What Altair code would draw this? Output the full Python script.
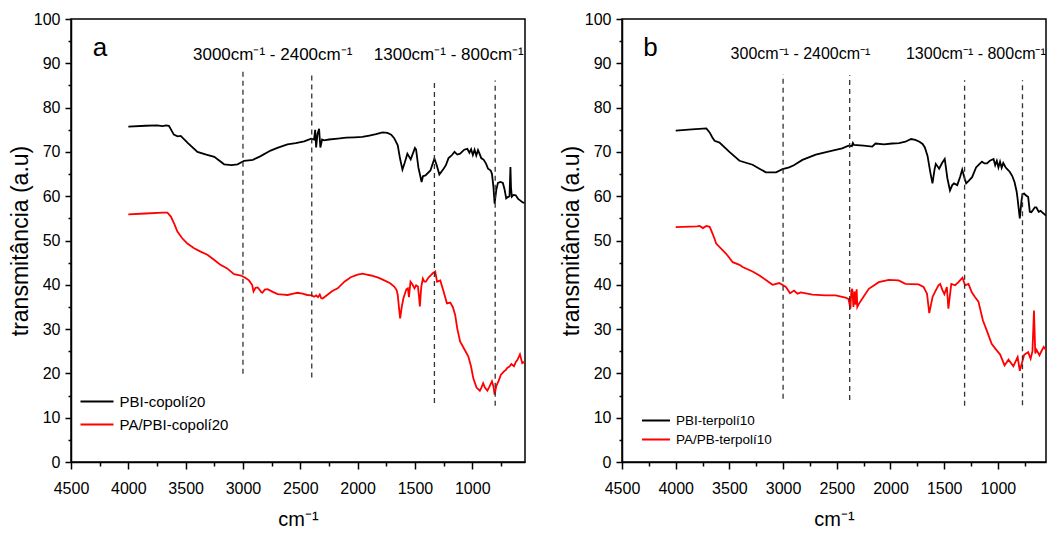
import altair as alt
import pandas as pd

FONT = "Liberation Sans, Arial, sans-serif"

# ---------------- data: panel a ----------------
a_names = ["PBI-copolí20", "PA/PBI-copolí20"]
a_black_wn = [4000, 3850, 3750, 3700, 3672, 3646, 3603, 3570, 3543, 3480, 3397, 3320, 3250, 3164, 3100,
              3047, 2990, 2950, 2914, 2850, 2759, 2700, 2612, 2540, 2466, 2405, 2380, 2370, 2362, 2350,
              2336, 2325, 2310, 2293, 2250, 2173, 2100, 2026, 1960, 1897, 1840, 1782, 1740, 1707, 1681,
              1650, 1630, 1609, 1590, 1566, 1537, 1500, 1490, 1470, 1442, 1430, 1408, 1365, 1330, 1310,
              1287, 1250, 1230, 1207, 1180, 1155, 1130, 1106, 1070, 1043, 1025, 1010, 995, 980, 965,
              950, 935, 922, 900, 879, 862, 839, 828, 815, 805, 790, 776, 755, 733, 718,
              704, 690, 675, 667, 662, 655, 640, 621, 600, 580, 560, 545]
a_black_t = [75.7, 75.9, 76.0, 75.8, 76.0, 75.9, 73.9, 73.5, 73.6, 72.0, 70.0, 69.4, 68.9, 67.2, 67.0,
             67.2, 68.0, 68.1, 68.2, 69.0, 70.3, 70.9, 71.7, 72.0, 72.4, 73.0, 72.8, 75.0, 71.0, 74.0,
             75.2, 71.0, 72.8, 72.6, 72.8, 73.0, 73.2, 73.3, 73.4, 73.7, 74.0, 74.4, 74.3, 73.9, 73.1,
             71.5, 68.5, 66.0, 67.5, 69.6, 68.3, 70.9, 70.5, 66.5, 63.2, 64.5, 64.7, 65.8, 68.5, 67.0,
             64.9, 66.2, 67.0, 68.6, 69.2, 70.0, 69.4, 69.6, 70.5, 70.7, 69.8, 70.6, 69.3, 70.5, 69.2,
             70.4, 69.5, 68.6, 68.2, 67.3, 66.2, 65.8, 65.0, 62.0, 58.3, 61.5, 63.0, 63.2, 63.0, 61.5,
             59.5, 59.8, 60.0, 66.6, 62.0, 59.9, 60.3, 60.2, 59.4, 59.0, 58.6, 58.5]
a_red_wn = [4000, 3850, 3700, 3659, 3629, 3600, 3572, 3530, 3485, 3430, 3370, 3310, 3250, 3200, 3138,
            3078, 3018, 2980, 2948, 2920, 2908, 2890, 2872, 2855, 2840, 2830, 2810, 2785, 2740, 2698,
            2650, 2610, 2560, 2525, 2480, 2440, 2400, 2380, 2362, 2345, 2330, 2318, 2305, 2260, 2220,
            2174, 2115, 2060, 2000, 1957, 1920, 1883, 1820, 1767, 1720, 1681, 1660, 1650, 1640, 1629,
            1615, 1600, 1591, 1575, 1562, 1552, 1539, 1520, 1504, 1490, 1474, 1465, 1457, 1445, 1431,
            1418, 1405, 1380, 1360, 1345, 1323, 1307, 1279, 1250, 1221, 1192, 1170, 1149, 1130, 1106,
            1070, 1034, 1010, 991, 963, 934, 920, 905, 890, 868, 850, 828, 815, 805, 790,
            770, 750, 725, 707, 693, 678, 659, 636, 620, 607, 584, 564, 545]
a_red_t = [55.9, 56.1, 56.3, 56.3, 55.4, 53.8, 52.0, 50.5, 49.3, 48.3, 47.5, 46.8, 45.6, 44.6, 43.7,
           42.4, 42.1, 41.6, 41.0, 40.0, 38.5, 39.3, 39.4, 38.9, 38.3, 38.2, 38.9, 39.0, 38.4, 37.9,
           37.8, 37.7, 38.0, 38.2, 38.0, 37.7, 37.6, 37.3, 37.6, 37.2, 37.8, 37.0, 36.9, 37.8, 38.6,
           39.2, 40.7, 41.7, 42.3, 42.5, 42.3, 42.1, 41.6, 41.0, 40.4, 39.6, 38.8, 37.7, 35.0, 32.4,
           35.0, 37.0, 37.7, 39.0, 39.2, 37.2, 40.7, 40.0, 39.2, 39.9, 39.6, 37.5, 35.1, 39.5, 41.4,
           40.7, 40.7, 41.7, 42.2, 42.6, 43.0, 40.7, 41.0, 38.5, 35.8, 36.0, 35.0, 33.2, 30.0, 27.2,
           25.5, 23.8, 21.5, 18.9, 16.8, 16.1, 16.8, 17.8, 16.8, 16.1, 17.0, 18.2, 17.0, 15.2, 17.2,
           18.3, 19.7, 20.4, 20.8, 21.3, 21.5, 22.1, 21.6, 22.6, 23.0, 24.3, 22.3, 22.6]
a_rule_wn = [3000, 2400, 1330, 800]
a_rule_lo = [19.9, 19.1, 13.3, 12.7]
a_rule_hi = [89.0, 88.1, 86.3, 86.1]
a_ann_wn = [2741, 1205]
a_ann_t = [90.8, 90.8]
a_ann_text = ["3000cm⁻¹ - 2400cm⁻¹", "1300cm⁻¹ - 800cm⁻¹"]

# ---------------- data: panel b ----------------
b_names = ["PBI-terpolí10", "PA/PB-terpolí10"]
b_black_wn = [4000, 3850, 3715, 3684, 3660, 3638, 3592, 3500, 3406, 3284, 3220, 3160, 3066, 3005, 2944,
              2900, 2820, 2696, 2541, 2450, 2391, 2360, 2350, 2341, 2250, 2170, 2140, 2060, 1986, 1920,
              1861, 1808, 1769, 1730, 1701, 1680, 1655, 1630, 1609, 1590, 1578, 1547, 1520, 1495, 1470,
              1446, 1425, 1409, 1378, 1350, 1332, 1310, 1295, 1270, 1240, 1220, 1203, 1175, 1148, 1125,
              1102, 1075, 1040, 1025, 1010, 995, 980, 965, 950, 930, 918, 900, 887, 865, 844,
              825, 817, 796, 780, 771, 755, 740, 718, 703, 688, 670, 656, 642, 620, 602,
              580, 552]
b_black_t = [74.8, 75.1, 75.3, 74.4, 73.3, 72.5, 72.1, 70.0, 68.0, 67.1, 66.2, 65.4, 65.4, 66.1, 66.5,
             67.0, 68.2, 69.4, 70.3, 70.8, 71.4, 71.3, 72.0, 71.6, 71.4, 71.2, 71.9, 71.7, 71.9, 72.0,
             72.3, 72.9, 72.7, 72.3, 71.8, 71.0, 69.1, 65.5, 62.9, 66.0, 67.3, 66.2, 67.5, 68.4, 64.0,
             61.3, 62.5, 62.9, 62.5, 64.5, 66.0, 64.0, 62.9, 63.5, 64.3, 65.5, 66.5, 67.2, 67.8, 67.4,
             67.4, 68.0, 68.4, 67.0, 68.0, 66.5, 67.8, 66.4, 67.5, 66.6, 66.2, 65.8, 65.4, 64.5, 63.1,
             61.0, 59.5, 55.0, 59.0, 60.5, 60.6, 60.2, 59.8, 56.5, 56.4, 57.0, 57.5, 57.5, 56.5, 56.7,
             56.2, 55.6]
b_red_wn = [4000, 3800, 3777, 3746, 3715, 3684, 3669, 3640, 3623, 3530, 3469, 3406, 3377, 3284, 3220,
            3160, 3098, 3036, 2974, 2935, 2898, 2866, 2835, 2727, 2603, 2511, 2419, 2391, 2373, 2365,
            2356, 2345, 2335, 2325, 2315, 2309, 2294, 2262, 2202, 2109, 2016, 1924, 1861, 1738, 1692,
            1660, 1639, 1608, 1577, 1553, 1537, 1516, 1498, 1475, 1461, 1434, 1398, 1367, 1330, 1305,
            1274, 1243, 1212, 1181, 1140, 1104, 1058, 1024, 978, 938, 901, 856, 816, 796, 755,
            718, 695, 678, 664, 652, 640, 613, 595, 573, 552]
b_red_t = [53.0, 53.2, 53.3, 52.8, 53.3, 53.1, 52.3, 50.5, 49.3, 47.0, 45.1, 44.5, 44.0, 43.0, 42.1,
           41.1, 40.0, 40.4, 39.5, 38.1, 38.7, 38.0, 38.3, 37.8, 37.6, 37.6, 37.1, 36.8, 34.6, 38.5,
           39.1, 35.0, 38.5, 35.5, 39.0, 35.0, 35.7, 36.9, 39.1, 40.6, 41.1, 41.0, 40.2, 40.1, 39.5,
           38.0, 33.6, 37.3, 38.8, 39.9, 40.2, 38.8, 37.9, 39.5, 34.6, 40.2, 39.9, 40.6, 41.6, 39.9,
           40.2, 38.3, 37.2, 36.2, 32.0, 29.7, 26.7, 25.6, 24.2, 21.8, 23.1, 21.6, 23.7, 20.6, 24.2,
           24.8, 23.3, 25.0, 34.2, 24.5, 25.3, 24.1, 25.0, 26.0, 25.3]
b_rule_wn = [3000, 2380, 1310, 771]
b_rule_lo = [14.3, 14.0, 12.7, 12.8]
b_rule_hi = [87.5, 87.3, 86.2, 86.2]
b_ann_wn = [2838, 1205]
b_ann_t = [91.0, 91.0]
b_ann_text = ["300cm⁻¹ - 2400cm⁻¹", "1300cm⁻¹ - 800cm⁻¹"]

# ---------------- axes ----------------
x_ticks = [4500, 4250, 4000, 3750, 3500, 3250, 3000, 2750, 2500, 2250, 2000, 1750, 1500, 1250, 1000, 750]
y_ticks = [0, 5, 10, 15, 20, 25, 30, 35, 40, 45, 50, 55, 60, 65, 70, 75, 80, 85, 90, 95, 100]
x_title = "cm⁻¹"
y_title = "transmitância (a.u)"


def panel(bw, bt, rw, rt, names, rule_wn, rule_lo, rule_hi, ann_wn, ann_t, ann_text, ann_font,
          letter, letter_wn, letter_t, width, xmin, leg_x, leg_y, leg_font, leg_row, leg_len):
    df = pd.concat([
        pd.DataFrame({"wn": bw, "t": bt, "s": names[0]}),
        pd.DataFrame({"wn": rw, "t": rt, "s": names[1]}),
    ])
    xs = alt.Scale(domain=[xmin, 4500], reverse=True, nice=False, zero=False)
    ys = alt.Scale(domain=[0, 100], nice=False, zero=True)
    xax = alt.Axis(
        values=x_ticks, format="d", title=x_title,
        labelExpr="datum.value % 500 === 0 ? datum.label : ''",
        tickSize={"condition": {"test": "datum.value % 500 === 0", "value": 7}, "value": 4},
        grid=False, labelOverlap=False, labelFlush=False,
        labelFont=FONT, labelFontSize=16, labelColor="black", labelPadding=11,
        titleFont=FONT, titleFontSize=20, titleFontWeight="normal", titleColor="black",
        titlePadding=13, domainColor="black", domainWidth=1.5, tickColor="black", tickWidth=1.5,
    )
    yax = alt.Axis(
        values=y_ticks, title=y_title,
        labelExpr="datum.value % 10 === 0 ? datum.label : ''",
        tickSize={"condition": {"test": "datum.value % 10 === 0", "value": 6}, "value": 3},
        grid=False, labelOverlap=False, labelFlush=False,
        labelFont=FONT, labelFontSize=16, labelColor="black", labelPadding=5,
        titleFont=FONT, titleFontSize=23, titleFontWeight="normal", titleColor="black",
        titlePadding=1, domainColor="black", domainWidth=1.5, tickColor="black", tickWidth=1.5,
    )
    X = alt.X("wn:Q", scale=xs, axis=xax)
    Y = alt.Y("t:Q", scale=ys, axis=yax)

    lines = alt.Chart(df).mark_line(strokeWidth=1.8, clip=True).encode(
        x=X, y=Y,
        color=alt.Color("s:N", scale=alt.Scale(domain=names, range=["#000000", "#ff0000"]),
                        legend=alt.Legend(orient="none", legendX=leg_x, legendY=leg_y, title=None,
                                          symbolType="stroke", symbolSize=leg_len * leg_len,
                                          symbolStrokeWidth=2, labelFont=FONT,
                                          labelFontSize=leg_font, labelColor="black",
                                          clipHeight=leg_row, rowPadding=0, labelOffset=5,
                                          padding=0, labelLimit=400)),
        order=alt.Order("wn:Q"),
    )
    rules_df = pd.DataFrame({"wn": rule_wn, "t": rule_lo, "t2": rule_hi})
    rules = alt.Chart(rules_df).mark_rule(color="#333333", strokeWidth=1.3, strokeDash=[5, 4]).encode(
        x=X, y=Y, y2="t2:Q")
    ann_df = pd.DataFrame({"wn": ann_wn, "t": ann_t, "label": ann_text})
    ann = alt.Chart(ann_df).mark_text(font=FONT, fontSize=ann_font, color="black", align="center",
                                       baseline="alphabetic").encode(x=X, y=Y, text="label:N")
    let_df = pd.DataFrame({"wn": [letter_wn], "t": [letter_t], "label": [letter]})
    let = alt.Chart(let_df).mark_text(font=FONT, fontSize=26, color="black", align="center",
                                       baseline="middle").encode(x=X, y=Y, text="label:N")
    return alt.layer(lines, rules, ann, let).properties(width=width, height=443)


pa = panel(a_black_wn, a_black_t, a_red_wn, a_red_t, a_names, a_rule_wn, a_rule_lo, a_rule_hi,
           a_ann_wn, a_ann_t, a_ann_text, 17, "a", 4248, 93.5, 454, 540, 8.5, 371, 15, 23, 33)
pb = panel(b_black_wn, b_black_t, b_red_wn, b_red_t, b_names, b_rule_wn, b_rule_lo, b_rule_hi,
           b_ann_wn, b_ann_t, b_ann_text, 16, "b", 4234, 93.4, 424, 552, 19, 392, 13.5, 19, 28)

chart = alt.hconcat(pa, pb, spacing=33).resolve_scale(color="independent").configure_view(
    stroke="black", strokeWidth=1.5
).properties(padding={"left": 0, "top": 2, "right": 0, "bottom": 0}, background="white")

chart.save("out.html", embed_options={"renderer": "svg", "actions": False})
